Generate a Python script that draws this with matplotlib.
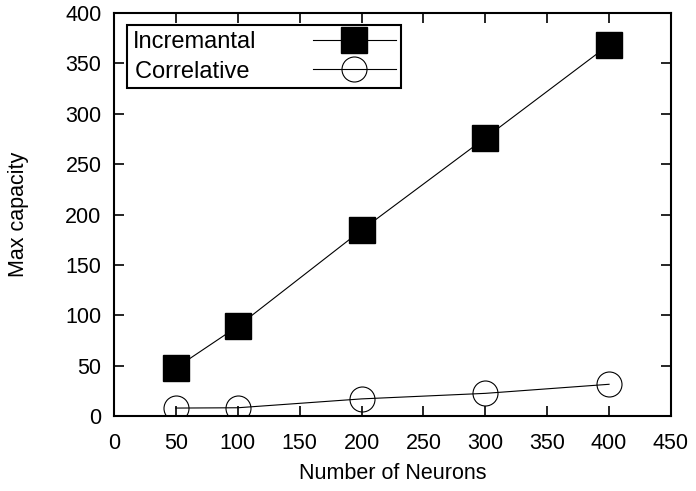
import matplotlib.pyplot as plt

plt.rcParams['font.family'] = ['Liberation Sans', 'DejaVu Sans']

# data
neurons = [50, 100, 200, 300, 400]
incremantal = [47.8, 89, 184.5, 276, 368.5]
correlative = [7.9, 8.2, 17, 22.5, 31.5]

fig = plt.figure(figsize=(6.96, 4.91), dpi=100)
ax = fig.add_axes([0.1638, 0.1527, 0.8002, 0.8208])

ax.plot(neurons, incremantal, color='black', linewidth=0.8,
        marker='s', markersize=18.5, markerfacecolor='black',
        markeredgecolor='black', label='Incremantal')
# trailing space keeps the legend text left-aligned with the row above
ax.plot(neurons, correlative, color='black', linewidth=0.8,
        marker='o', markersize=18, markerfacecolor='none',
        markeredgecolor='black', markeredgewidth=0.8, label='Correlative ')

ax.set_xlim(0, 450)
ax.set_ylim(0, 400)
ax.set_xticks(range(0, 451, 50))
ax.set_yticks(range(0, 401, 50))
ax.tick_params(direction='in', length=7, width=1.2, top=True, right=True,
               labelsize=15.5)
ax.tick_params(axis='x', pad=12)
ax.tick_params(axis='y', pad=9)
for s in ax.spines.values():
    s.set_linewidth(1.5)

ax.set_xlabel('Number of Neurons', fontsize=15.5, labelpad=7)
ax.set_ylabel('Max capacity', fontsize=15.5, labelpad=26)

leg = ax.legend(loc='upper left', bbox_to_anchor=(0.023, 0.97),
                borderaxespad=0, markerfirst=False, fancybox=False,
                edgecolor='black', framealpha=1, fontsize=17,
                handlelength=3.5, handletextpad=2.4, borderpad=0.25,
                labelspacing=0.32)
leg.get_frame().set_linewidth(1.5)

fig.savefig('out.png', dpi=100)
